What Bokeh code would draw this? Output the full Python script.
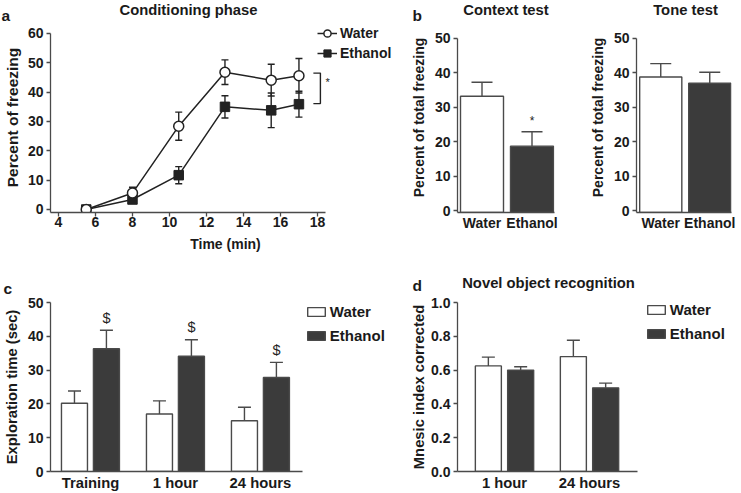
from bokeh.plotting import figure
from bokeh.models import (Range1d, FixedTicker, SingleIntervalTicker, Whisker, TeeHead,
                          ColumnDataSource, Label, LabelSet, Legend, LegendItem,
                          NumeralTickFormatter)
from bokeh.layouts import row, column
from bokeh.embed import file_html
from bokeh.resources import INLINE
from bokeh.core.properties import value

FONT = "Liberation Sans"
TXT = "#1a1a1a"
AXC = "#4a4a4a"
LC = "#222222"
DARK = "#3b3b3b"

# ---------------- data ----------------
# a: conditioning phase
time_min = [5.5, 8, 10.5, 13, 15.5, 17]
water_freezing = [0, 5.6, 28.4, 46.8, 44.1, 45.6]
water_freezing_sem = [0, 2.0, 4.8, 4.2, 5.4, 5.9]
ethanol_freezing = [0, 3.4, 11.7, 35.0, 33.8, 35.9]
ethanol_freezing_sem = [0, 0, 2.9, 3.8, 5.9, 4.4]
time_ticks = [4, 6, 8, 10, 12, 14, 16, 18]

# b: context / tone tests
groups_b = ["Water", "Ethanol"]
context_freezing = [33.2, 18.7]
context_sem = [4.1, 4.2]
context_sig = ["", "*"]
tone_freezing = [38.8, 37.0]
tone_sem = [3.9, 3.2]

# c: exploration time
sessions_c = ["Training", "1 hour", "24 hours"]
water_exploration = [20.2, 17.0, 15.0]
water_exploration_sem = [3.6, 3.9, 4.0]
ethanol_exploration = [36.3, 34.1, 27.8]
ethanol_exploration_sem = [5.5, 4.9, 4.5]
ethanol_exploration_sig = ["$", "$", "$"]

# d: novel object recognition
sessions_d = ["1 hour", "24 hours"]
water_mnesic = [0.625, 0.68]
water_mnesic_sem = [0.052, 0.097]
ethanol_mnesic = [0.60, 0.495]
ethanol_mnesic_sem = [0.02, 0.028]


# ---------------- helpers ----------------
def make_fig(w, h, left, right, top, bottom, xr, yr):
    p = figure(width=w, height=h, x_range=xr, y_range=yr, output_backend="svg",
               toolbar_location=None, min_border_left=left, min_border_right=right,
               min_border_top=top, min_border_bottom=bottom)
    p.grid.visible = False
    p.outline_line_color = None
    p.background_fill_color = "white"
    p.border_fill_color = "white"
    return p


def make_strip(w, h):
    p = figure(width=w, height=h, x_range=Range1d(0, w), y_range=Range1d(h, 0),
               output_backend="svg", toolbar_location=None, x_axis_location=None,
               y_axis_location=None, min_border=0)
    p.grid.visible = False
    p.outline_line_color = None
    p.background_fill_color = "white"
    p.border_fill_color = "white"
    return p


def strip_text(p, x, y, txt, size, align="left", baseline="alphabetic"):
    p.text(x=[x], y=[y], text=[txt], text_font=value(FONT), text_font_style="bold",
           text_font_size=size, text_color=TXT, text_align=align,
           text_baseline=baseline)


def style_axis(ax, tick_font="14px", label_font="14px", tick_out=4, standoff=3,
               label_standoff=5):
    ax.axis_line_color = AXC
    ax.axis_line_width = 1.3
    ax.major_tick_line_color = AXC
    ax.major_tick_line_width = 1.3
    ax.major_tick_out = tick_out
    ax.major_tick_in = 0
    ax.minor_tick_line_color = None
    ax.major_label_standoff = standoff
    ax.major_label_text_font = FONT
    ax.major_label_text_font_style = "bold"
    ax.major_label_text_font_size = tick_font
    ax.major_label_text_color = TXT
    ax.axis_label_text_font = FONT
    ax.axis_label_text_font_style = "bold"
    ax.axis_label_text_font_size = label_font
    ax.axis_label_text_color = TXT
    ax.axis_label_standoff = label_standoff


def add_bars(p, xs, vals, sems, width, fills, cap, base=0):
    src = ColumnDataSource(dict(x=xs, top=vals, fill=fills,
                                upper=[v + e for v, e in zip(vals, sems)]))
    r = p.vbar(x="x", top="top", bottom=base, width=width, fill_color="fill",
               line_color=AXC, line_width=1.4, source=src)
    p.add_layout(Whisker(source=src, base="x", lower="top", upper="upper",
                         dimension="height", line_color=AXC, line_width=1.4,
                         upper_head=TeeHead(size=cap, line_color=AXC, line_width=1.4),
                         lower_head=None))
    return r, src


def bar_legend(rw, re_, loc):
    return Legend(items=[LegendItem(label="Water", renderers=[rw]),
                         LegendItem(label="Ethanol", renderers=[re_])],
                  location=loc, glyph_width=22, glyph_height=11,
                  label_height=16, spacing=7, label_standoff=3, padding=0,
                  margin=0, border_line_color=None, background_fill_alpha=0,
                  label_text_font=FONT, label_text_font_style="bold",
                  label_text_font_size="15px", label_text_color=TXT)


# ---------------- title strips ----------------
s1 = make_strip(741, 22)
strip_text(s1, 1, 14.5, "a", "15.5px")
strip_text(s1, 188, 9.5, "Conditioning phase", "14.8px", "center", "middle")
strip_text(s1, 412, 14.5, "b", "15.5px")
strip_text(s1, 505.5, 9, "Context test", "14.8px", "center", "middle")
strip_text(s1, 685, 9, "Tone test", "14.8px", "center", "middle")

s2 = make_strip(741, 32)
strip_text(s2, 3, 26, "c", "15.5px")
strip_text(s2, 412, 23, "d", "15.5px")
strip_text(s2, 548, 20, "Novel object recognition", "14.8px", "center", "middle")

# ---------------- panel a ----------------
A_Y0 = -1.023
pa = make_fig(400, 240, 50, 0, 0, 50, Range1d(3.568, 22.49), Range1d(A_Y0, 63.75))
style_axis(pa.xaxis[0], tick_out=4, standoff=0, label_standoff=6)
style_axis(pa.yaxis[0], label_font="15.5px", label_standoff=4)
pa.xaxis.ticker = FixedTicker(ticks=time_ticks)
pa.xaxis.bounds = (3.568, 18.43)
pa.yaxis.ticker = SingleIntervalTicker(interval=10, num_minor_ticks=0)
pa.yaxis.bounds = (A_Y0, 60)
pa.xaxis.axis_label = "Time (min)"
pa.yaxis.axis_label = "Percent of freezing"

src_w = ColumnDataSource(dict(
    t=time_min, y=water_freezing,
    lo=[v - e for v, e in zip(water_freezing, water_freezing_sem)],
    hi=[v + e for v, e in zip(water_freezing, water_freezing_sem)]))
src_e = ColumnDataSource(dict(
    t=time_min, y=ethanol_freezing,
    lo=[v - e for v, e in zip(ethanol_freezing, ethanol_freezing_sem)],
    hi=[v + e for v, e in zip(ethanol_freezing, ethanol_freezing_sem)]))
for s in (src_e, src_w):
    pa.add_layout(Whisker(source=s, base="t", lower="lo", upper="hi",
                          dimension="height", line_color=LC, line_width=1.4,
                          level="underlay",
                          upper_head=TeeHead(size=7, line_color=LC, line_width=1.4),
                          lower_head=TeeHead(size=7, line_color=LC, line_width=1.4)))
le = pa.line("t", "y", source=src_e, line_color=LC, line_width=1.5)
lw = pa.line("t", "y", source=src_w, line_color=LC, line_width=1.5)
me = pa.scatter("t", "y", source=src_e, marker="square", size=9.5,
                fill_color=LC, line_color=LC)
mw = pa.scatter("t", "y", source=src_w, marker="circle", size=10,
                fill_color="white", line_color=LC, line_width=1.5)
pa.add_layout(Legend(items=[LegendItem(label="Water", renderers=[lw, mw]),
                            LegendItem(label="Ethanol", renderers=[le, me])],
                     location=(267, 149.7), orientation="vertical",
                     glyph_width=20, glyph_height=18, label_height=16, spacing=2,
                     label_standoff=3, padding=0, margin=0,
                     border_line_color=None, background_fill_alpha=0,
                     label_text_font=FONT, label_text_font_style="bold",
                     label_text_font_size="14px", label_text_color=TXT))
# significance bracket between the final points of both groups
bx0 = time_min[-1] + 0.78
bx1 = time_min[-1] + 1.16
btop = water_freezing[-1] + 0.9
bbot = ethanol_freezing[-1] + 0.2
pa.line([bx0, bx1, bx1, bx0], [btop, btop, bbot, bbot], line_color=LC, line_width=1.4)
pa.add_layout(Label(x=bx1, y=(btop + bbot) / 2 + 2.1, text="*", x_offset=5,
                    text_font=FONT, text_font_size="11px", text_color=TXT,
                    text_align="left", text_baseline="middle"))


# ---------------- panel b ----------------
B_Y0 = -0.581


def panel_b(w, left, right, xr, vals, sems, sig=None):
    p = make_fig(w, 240, left, right, 0, 50, xr, Range1d(B_Y0, 54.65))
    style_axis(p.xaxis[0], tick_out=0, standoff=2)
    style_axis(p.yaxis[0], label_font="14px", label_standoff=5)
    p.xaxis.ticker = FixedTicker(ticks=list(range(len(groups_b))))
    p.xaxis.major_label_overrides = {i: g for i, g in enumerate(groups_b)}
    p.yaxis.ticker = SingleIntervalTicker(interval=10, num_minor_ticks=0)
    p.yaxis.bounds = (B_Y0, 50)
    p.yaxis.axis_label = "Percent of total freezing"
    xs = list(range(len(groups_b)))
    r, src = add_bars(p, xs, vals, sems, 0.86, ["white", DARK], 21, base=B_Y0)
    if sig is not None:
        src.data["sig"] = sig
        p.add_layout(LabelSet(x="x", y="upper", text="sig", source=src, y_offset=11,
                              text_font=value(FONT), text_font_size="12px",
                              text_color=TXT, text_align="center",
                              text_baseline="middle"))
    return p


pb1 = panel_b(186, 57, 32, Range1d(-0.49, 1.45), context_freezing, context_sem,
              sig=context_sig)
pb2 = panel_b(155, 49, 10, Range1d(-0.495, 1.444), tone_freezing, tone_sem)


# ---------------- panel c ----------------
pc = make_fig(400, 199, 50, 0, 8, 20, Range1d(-0.47, 3.648), Range1d(0, 50))
style_axis(pc.xaxis[0], tick_font="14.8px", tick_out=0, standoff=3)
style_axis(pc.yaxis[0], tick_font="14px", label_font="14.8px", label_standoff=5)
pc.xaxis.ticker = FixedTicker(ticks=list(range(len(sessions_c))))
pc.xaxis.major_label_overrides = {i: s for i, s in enumerate(sessions_c)}
pc.xaxis.bounds = (-0.47, 2.494)
pc.yaxis.ticker = SingleIntervalTicker(interval=10, num_minor_ticks=0)
pc.yaxis.axis_label = "Exploration time (sec)"
ic = list(range(len(sessions_c)))
rcw, _ = add_bars(pc, [i - 0.188 for i in ic], water_exploration,
                  water_exploration_sem, 0.306, ["white"] * len(ic), 13)
rce, src_ce = add_bars(pc, [i + 0.188 for i in ic], ethanol_exploration,
                       ethanol_exploration_sem, 0.306, [DARK] * len(ic), 13)
src_ce.data["sig"] = ethanol_exploration_sig
pc.add_layout(LabelSet(x="x", y="upper", text="sig", source=src_ce, y_offset=12.5,
                       text_font=value(FONT), text_font_size="14.5px", text_color=LC,
                       text_align="center", text_baseline="middle"))
pc.add_layout(bar_legend(rcw, rce, (254.8, 127.5)))


# ---------------- panel d ----------------
pd_ = make_fig(341, 199, 57, 0, 8, 20, Range1d(-0.553, 2.788), Range1d(0, 1.0))
style_axis(pd_.xaxis[0], tick_font="14.8px", tick_out=0, standoff=3)
style_axis(pd_.yaxis[0], tick_font="14px", label_font="14.8px", label_standoff=1)
pd_.xaxis.ticker = FixedTicker(ticks=list(range(len(sessions_d))))
pd_.xaxis.major_label_overrides = {i: s for i, s in enumerate(sessions_d)}
pd_.xaxis.bounds = (-0.553, 1.565)
pd_.yaxis.ticker = SingleIntervalTicker(interval=0.2, num_minor_ticks=0)
pd_.yaxis.formatter = NumeralTickFormatter(format="0.0")
pd_.yaxis.axis_label = "Mnesic index corrected"
idd = list(range(len(sessions_d)))
rdw, _ = add_bars(pd_, [i - 0.19 for i in idd], water_mnesic, water_mnesic_sem,
                  0.306, ["white"] * len(idd), 13)
rde, _ = add_bars(pd_, [i + 0.19 for i in idd], ethanol_mnesic, ethanol_mnesic_sem,
                  0.306, [DARK] * len(idd), 13)
pd_.add_layout(bar_legend(rdw, rde, (187.8, 129)))

layout = column(s1, row(pa, pb1, pb2), s2, row(pc, pd_))
open("out.html", "w").write(file_html(layout, INLINE))
